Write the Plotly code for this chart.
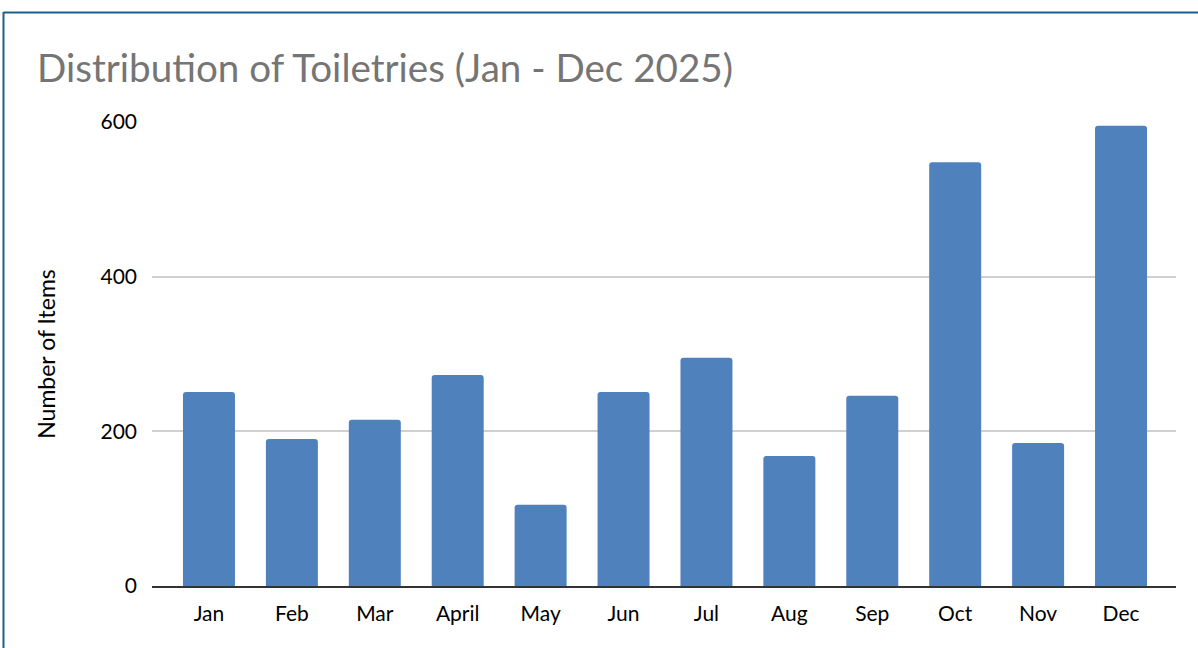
import plotly.graph_objects as go

# Monthly toiletry distribution counts
months = ["Jan", "Feb", "Mar", "April", "May", "Jun", "Jul", "Aug", "Sep", "Oct", "Nov", "Dec"]
items = [251, 190, 215, 273, 105, 251, 295, 168, 246, 548, 185, 595]
y_ticks = [0, 200, 400, 600]

FONT = "Lato, 'Open Sans', sans-serif"

fig = go.Figure(
    go.Bar(
        x=months,
        y=items,
        marker=dict(color="#4F81BD", line=dict(width=0)),
        hoverinfo="x+y",
    )
)

fig.update_layout(
    width=1198,
    height=648,
    margin=dict(l=152, r=22, t=122, b=62),
    paper_bgcolor="white",
    plot_bgcolor="white",
    bargap=0.373,
    barcornerradius=3,
    showlegend=False,
    font=dict(family=FONT, color="#000000", size=21),
    title=dict(
        text="Distribution of Toiletries (Jan - Dec 2025)",
        x=37 / 1198,
        xanchor="left",
        y=1 - 68 / 648,
        yanchor="middle",
        font=dict(family=FONT, size=38.6, color="#757575"),
    ),
    shapes=[
        # outer frame, open at the right and bottom edges
        dict(type="line", xref="paper", yref="paper", x0=-148.5 / 1024,
             x1=1.1, y0=1 + 109.5 / 464, y1=1 + 109.5 / 464,
             line=dict(color="#1F5F8B", width=2)),
        dict(type="line", xref="paper", yref="paper", x0=-148.5 / 1024, x1=-148.5 / 1024,
             y0=-0.2, y1=1 + 110 / 464,
             line=dict(color="#1F5F8B", width=2)),
    ],
)

fig.update_xaxes(
    range=[-0.687, 11.663],
    showgrid=False,
    showline=True,
    linecolor="#333333",
    linewidth=1.5,
    ticks="",
    tickfont=dict(size=21, color="#000000"),
    ticklabelstandoff=8,
)

fig.update_yaxes(
    range=[0, 600],
    tickvals=y_ticks,
    showgrid=True,
    gridcolor="#D0D0D0",
    gridwidth=1.5,
    zeroline=False,
    showline=False,
    ticks="",
    tickfont=dict(size=21, color="#000000"),
    ticklabelstandoff=14,
    title=dict(text="Number of Items", font=dict(size=23, color="#000000"), standoff=38),
)

fig.write_html("out.html")
